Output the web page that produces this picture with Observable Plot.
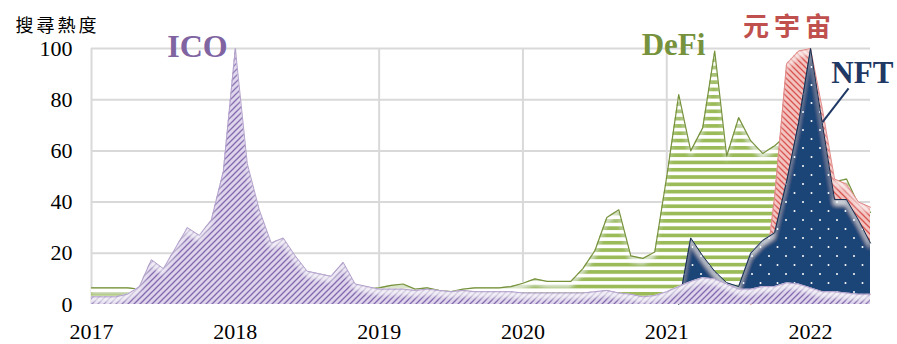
<!DOCTYPE html>
<html>
<head>
<meta charset="utf-8">
<script src="https://cdn.jsdelivr.net/npm/d3@7"></script>
<script src="https://cdn.jsdelivr.net/npm/@observablehq/plot@0.6"></script>
<style>
  html, body { margin: 0; padding: 0; background: #fff; }
</style>
</head>
<body>
<div id="chart"></div>
<script>
// Monthly search interest, January 2017 – June 2022 (peak = 100)
const startYear = 2017;
const yearTicks = [2017, 2018, 2019, 2020, 2021, 2022];
const valueTicks = [0, 20, 40, 60, 80, 100];
const seriesNames = ["ICO", "DeFi", "元宇宙", "NFT"];
const yTitle = "搜尋熱度";

const icoValues = [
  3, 3, 3, 4, 7, 17.5, 14, 22, 30, 27, 33, 52,
  100, 55, 37, 24, 26, 19, 13, 12, 11, 16.5, 8, 7,
  6, 6, 6, 5.5, 6, 5.5, 5, 5.5, 5, 5, 5, 5,
  4.5, 4.5, 4.5, 4.5, 4.5, 4.5, 5, 5.5, 4.5, 4, 3, 3.5,
  5, 7, 9, 10.5, 10, 8, 6, 6, 7, 7, 8.5, 8,
  6.5, 5, 5, 4.5, 4, 4
];
const defiValues = [
  6.5, 6.5, 6.5, 6.5, 6, 6, 6, 6, 6, 6, 6, 6,
  6, 6, 6, 6, 6, 6, 6, 6, 6, 6, 6, 6,
  6.5, 7.5, 8, 6, 6.5, 5.5, 5, 6, 6.5, 6.5, 6.5, 7,
  8.3, 10, 9, 9, 9, 14, 21, 34, 37, 19, 18, 20.5,
  50, 82, 60, 69, 99, 58, 73, 64, 59, 62, 66, 70,
  60, 52, 48, 49, 39, 36
];
const metaverseValues = [
  0, 0, 0, 0, 0, 0, 0, 0, 0, 0, 0, 0,
  0, 0, 0, 0, 0, 0, 0, 0, 0, 0, 0, 0,
  0, 0, 0, 0, 0, 0, 0, 0, 0, 0, 0, 0,
  0, 0, 0, 0, 0, 0, 0, 0, 0, 0, 0, 0,
  0, 0, 0, 0, 0, 0, 0, 0, 3, 42, 94, 99,
  100, 76, 49, 47, 40, 38
];
const nftValues = [
  0, 0, 0, 0, 0, 0, 0, 0, 0, 0, 0, 0,
  0, 0, 0, 0, 0, 0, 0, 0, 0, 0, 0, 0,
  0, 0, 0, 0, 0, 0, 0, 0, 0, 0, 0, 0,
  0, 0, 0, 0, 0, 0, 0, 0, 0, 0, 0, 0,
  0, 0, 26, 19, 13, 8.5, 7, 20, 25, 28, 48, 71,
  100, 70, 41, 41, 33, 24
];

const toRows = (values) => values.map((v, i) => ({t: startYear + i / 12, v}));
const ico = toRows(icoValues);
const defi = toRows(defiValues);
const meta = toRows(metaverseValues);
const nft = toRows(nftValues);

const serif = "'Liberation Serif', 'Times New Roman', serif";
const cjk = "'Noto Sans CJK TC', 'Noto Sans CJK SC', sans-serif";

const chart = Plot.plot({
  width: 897,
  height: 344,
  marginLeft: 91,
  marginRight: 27,
  marginTop: 48,
  marginBottom: 40,
  x: {domain: [startYear, startYear + (icoValues.length - 1) / 12], label: null},
  y: {domain: [0, 100], label: null},
  style: {fontFamily: serif, fontSize: "22px", color: "#000", background: "#fff", overflow: "visible"},
  marks: [
    Plot.gridY(valueTicks.filter((d) => d > 0), {stroke: "#d9d9d9", strokeOpacity: 1, strokeWidth: 2}),
    Plot.gridX(yearTicks, {stroke: "#d9d9d9", strokeOpacity: 1, strokeWidth: 2}),

    // back to front: DeFi, 元宇宙, NFT, ICO
    Plot.areaY(defi, {x: "t", y: "v", fill: "url(#pat-defi)"}),
    Plot.lineY(defi, {x: "t", y: "v", stroke: "#76923c", strokeWidth: 1.2}),
    Plot.areaY(meta, {x: "t", y: "v", fill: "url(#pat-meta)"}),
    Plot.lineY(meta.filter((d) => d.t > 2021.5), {x: "t", y: "v", stroke: "#e08a88", strokeWidth: 1}),
    Plot.areaY(nft, {x: "t", y: "v", fill: "url(#pat-nft)"}),
    Plot.lineY(nft.filter((d) => d.t > 2021), {x: "t", y: "v", stroke: "#132d50", strokeWidth: 1}),
    Plot.areaY(ico, {x: "t", y: "v", fill: "url(#pat-ico)"}),
    Plot.lineY(ico, {x: "t", y: "v", stroke: "#b3a1cc", strokeWidth: 1}),

    Plot.axisX({ticks: yearTicks, tickFormat: (d) => `${d}`, tickSize: 0, tickPadding: 19, fontSize: 22, label: null}),
    Plot.axisY({ticks: valueTicks, tickSize: 0, tickPadding: 19, fontSize: 22, label: null}),

    Plot.text([yTitle], {x: 2016.471, y: 106.6, text: (d) => d, textAnchor: "start", lineAnchor: "bottom", fontSize: 18, fontFamily: cjk, fill: "#000"}),
    Plot.text([seriesNames[0]], {x: 2017.737, y: 96.5, text: (d) => d, lineAnchor: "bottom", fontSize: 32, fontWeight: "bold", fill: "#8064a2"}),
    Plot.text([seriesNames[1]], {x: 2021.047, y: 97.3, text: (d) => d, lineAnchor: "bottom", fontSize: 31, fontWeight: "bold", fill: "#76923c"}),
    Plot.text([seriesNames[2]], {x: 2021.854, y: 105, text: (d) => d, lineAnchor: "bottom", fontSize: 26, fontWeight: "bold", fontFamily: cjk, fill: "#c0504d"}),
    Plot.text([seriesNames[3]], {x: 2022.36, y: 86.4, text: (d) => d, lineAnchor: "bottom", fontSize: 31, fontWeight: "bold", fill: "#1f3864"}),
    Plot.link([0], {x1: 2022.264, y1: 84.4, x2: 2022.083, y2: 71.2, stroke: "#1f3864", strokeWidth: 2})
  ]
});

// Fill patterns and a soft highlight along the upper edges of the areas
const svg = d3.select(chart);
const defs = svg.insert("defs", ":first-child");

const pIco = defs.append("pattern").attr("id", "pat-ico").attr("patternUnits", "userSpaceOnUse").attr("width", 6).attr("height", 6);
pIco.append("rect").attr("width", 6).attr("height", 6).attr("fill", "#ddd4eb");
pIco.append("path").attr("d", "M-1,7L7,-1M-1,1L1,-1M5,7L7,5").attr("stroke", "#8467ae").attr("stroke-width", 1.3);

const pMeta = defs.append("pattern").attr("id", "pat-meta").attr("patternUnits", "userSpaceOnUse").attr("width", 6).attr("height", 6);
pMeta.append("rect").attr("width", 6).attr("height", 6).attr("fill", "#f2c2bf");
pMeta.append("path").attr("d", "M-1,-1L7,7M5,-1L7,1M-1,5L1,7").attr("stroke", "#d9534f").attr("stroke-width", 1.3);

const pDefi = defs.append("pattern").attr("id", "pat-defi").attr("patternUnits", "userSpaceOnUse").attr("width", 8).attr("height", 7.3);
pDefi.append("rect").attr("width", 8).attr("height", 7.3).attr("fill", "#ffffff");
pDefi.append("rect").attr("width", 8).attr("height", 3.7).attr("fill", "#9bbb59");

const pNft = defs.append("pattern").attr("id", "pat-nft").attr("patternUnits", "userSpaceOnUse").attr("width", 17).attr("height", 18);
pNft.append("rect").attr("width", 17).attr("height", 18).attr("fill", "#1f4577");
pNft.append("circle").attr("cx", 4).attr("cy", 4).attr("r", 1).attr("fill", "#ffffff");
pNft.append("circle").attr("cx", 12.5).attr("cy", 13).attr("r", 1).attr("fill", "#ffffff");

const glow = defs.append("filter").attr("id", "top-glow")
  .attr("x", "-2%").attr("y", "-5%").attr("width", "104%").attr("height", "110%");
glow.append("feOffset").attr("in", "SourceAlpha").attr("dy", 6).attr("result", "shift");
glow.append("feComposite").attr("in", "SourceAlpha").attr("in2", "shift").attr("operator", "out").attr("result", "band");
glow.append("feGaussianBlur").attr("in", "band").attr("stdDeviation", 2).attr("result", "bandBlur");
glow.append("feComposite").attr("in", "bandBlur").attr("in2", "SourceAlpha").attr("operator", "in").attr("result", "bandIn");
glow.append("feFlood").attr("flood-color", "#ffffff").attr("flood-opacity", 0.7);
glow.append("feComposite").attr("in2", "bandIn").attr("operator", "in").attr("result", "light");
const merge = glow.append("feMerge");
merge.append("feMergeNode").attr("in", "SourceGraphic");
merge.append("feMergeNode").attr("in", "light");

svg.selectAll('g[aria-label="area"]').attr("filter", "url(#top-glow)");
svg.selectAll("text").filter(function () { return this.textContent === seriesNames[2]; })
  .style("letter-spacing", "5px");
svg.selectAll("text").filter(function () { return this.textContent === yTitle; })
  .style("letter-spacing", "3px");

document.getElementById("chart").appendChild(chart);
</script>
</body>
</html>
